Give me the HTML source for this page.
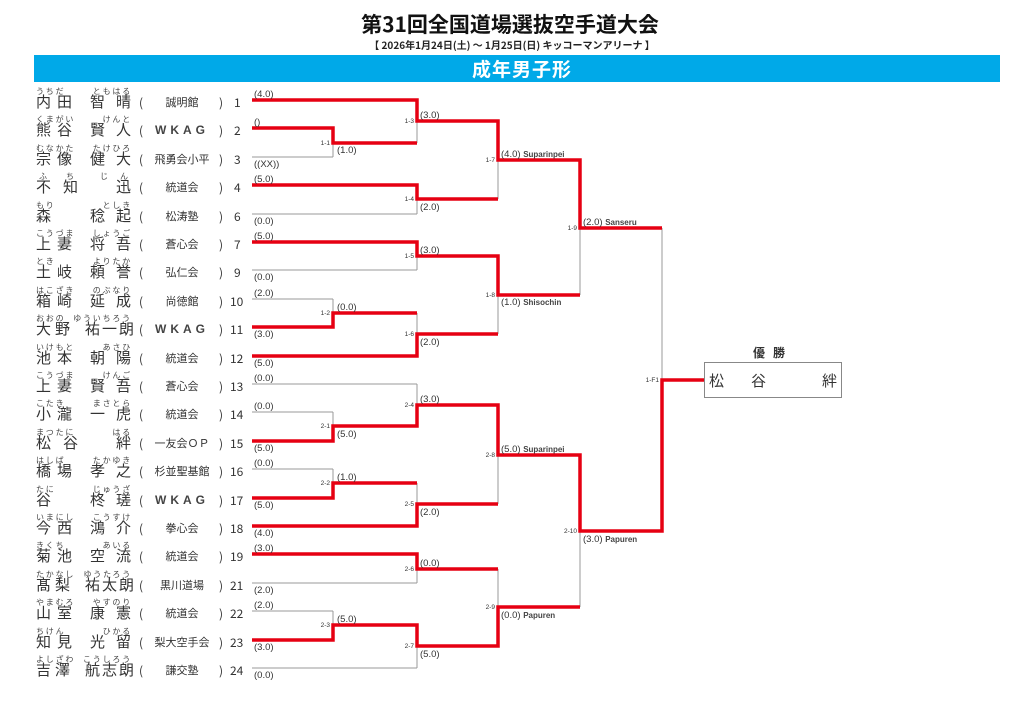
<!DOCTYPE html>
<html><head><meta charset="utf-8"><style>
html,body{margin:0;padding:0;background:#fff;}
svg{display:block;}
text{font-family:"Liberation Sans","Noto Sans CJK JP",sans-serif;fill:#333;}
.nm{font-family:"Noto Sans CJK JP",sans-serif;font-size:15px;fill:#333;}
.fu{font-family:"Noto Sans CJK JP",sans-serif;font-size:8px;fill:#444;letter-spacing:1.8px;}
.tm{font-family:"Noto Sans CJK JP",sans-serif;font-size:11px;fill:#333;}
.pn{font-family:"Noto Sans CJK JP",sans-serif;font-size:12px;fill:#333;}
.sc{font-size:9.5px;fill:#444;}
.mid{font-size:6.5px;fill:#444;}
.w{font-size:8px;font-weight:bold;fill:#444;}
.g{stroke:#999;stroke-width:1;fill:none;}
.r{stroke:#e60012;stroke-width:3.5;fill:none;stroke-linejoin:miter;}
</style></head><body>
<svg width="1024" height="724" viewBox="0 0 1024 724" xmlns="http://www.w3.org/2000/svg">
<text x="510" y="32" text-anchor="middle" style="font-family:'Noto Sans CJK JP',sans-serif;font-size:21px;font-weight:bold;fill:#111;">第31回全国道場選抜空手道大会</text>
<text x="512" y="49" text-anchor="middle" style="font-family:'Noto Sans CJK JP',sans-serif;font-size:10px;font-weight:bold;fill:#222;">【 2026年1月24日(土) ～ 1月25日(日)  キッコーマンアリーナ 】</text>
<rect x="34" y="55" width="966" height="27" fill="#00a9e8"/>
<text x="522" y="76" text-anchor="middle" style="font-family:'Noto Sans CJK JP',sans-serif;font-size:19px;font-weight:bold;fill:#fff;letter-spacing:1px;">成年男子形</text>

<g>
<text class="fu" x="36" y="94">うちだ</text><text class="fu" x="132" y="94" text-anchor="end">ともはる</text>
<text class="nm" x="36" y="107">内</text><text class="nm" x="57" y="107">田</text><text class="nm" x="90" y="107">智</text><text class="nm" x="116" y="107">晴</text>
<text class="tm" x="182" y="106" text-anchor="middle">誠明館</text><text class="pn" x="139" y="107">(</text><text class="pn" x="219" y="107">)</text><text class="pn" x="234" y="107">1</text>

<text class="fu" x="36" y="122">くまがい</text><text class="fu" x="132" y="122" text-anchor="end">けんと</text>
<text class="nm" x="36" y="135">熊</text><text class="nm" x="57" y="135">谷</text><text class="nm" x="90" y="135">賢</text><text class="nm" x="116" y="135">人</text>
<text class="tm" x="182" y="134" text-anchor="middle" style="font-size:12px;letter-spacing:4px;font-family:'Liberation Sans',sans-serif;font-weight:bold;fill:#444">WKAG</text><text class="pn" x="139" y="135">(</text><text class="pn" x="219" y="135">)</text><text class="pn" x="234" y="135">2</text>

<text class="fu" x="36" y="151">むなかた</text><text class="fu" x="132" y="151" text-anchor="end">たけひろ</text>
<text class="nm" x="36" y="164">宗</text><text class="nm" x="57" y="164">像</text><text class="nm" x="90" y="164">健</text><text class="nm" x="116" y="164">大</text>
<text class="tm" x="182" y="163" text-anchor="middle">飛勇会小平</text><text class="pn" x="139" y="164">(</text><text class="pn" x="219" y="164">)</text><text class="pn" x="234" y="164">3</text>

<text class="fu" x="39" y="179">ふ</text><text class="fu" x="66" y="179">ち</text><text class="fu" x="100" y="179">じ</text><text class="fu" x="120" y="179">ん</text>
<text class="nm" x="36" y="192">不</text><text class="nm" x="63" y="192">知</text><text class="nm" x="116" y="192">迅</text>
<text class="tm" x="182" y="191" text-anchor="middle">統道会</text><text class="pn" x="139" y="192">(</text><text class="pn" x="219" y="192">)</text><text class="pn" x="234" y="192">4</text>

<text class="fu" x="36" y="208">もり</text><text class="fu" x="132" y="208" text-anchor="end">としき</text>
<text class="nm" x="36" y="221">森</text><text class="nm" x="90" y="221">稔</text><text class="nm" x="116" y="221">起</text>
<text class="tm" x="182" y="220" text-anchor="middle">松涛塾</text><text class="pn" x="139" y="221">(</text><text class="pn" x="219" y="221">)</text><text class="pn" x="234" y="221">6</text>

<text class="fu" x="36" y="236">こうづま</text><text class="fu" x="132" y="236" text-anchor="end">しょうご</text>
<text class="nm" x="36" y="249">上</text><text class="nm" x="57" y="249">妻</text><text class="nm" x="90" y="249">将</text><text class="nm" x="116" y="249">吾</text>
<text class="tm" x="182" y="248" text-anchor="middle">蒼心会</text><text class="pn" x="139" y="249">(</text><text class="pn" x="219" y="249">)</text><text class="pn" x="234" y="249">7</text>

<text class="fu" x="36" y="264">とき</text><text class="fu" x="132" y="264" text-anchor="end">よりたか</text>
<text class="nm" x="36" y="277">土</text><text class="nm" x="57" y="277">岐</text><text class="nm" x="90" y="277">頼</text><text class="nm" x="116" y="277">誉</text>
<text class="tm" x="182" y="276" text-anchor="middle">弘仁会</text><text class="pn" x="139" y="277">(</text><text class="pn" x="219" y="277">)</text><text class="pn" x="234" y="277">9</text>

<text class="fu" x="36" y="293">はこざき</text><text class="fu" x="132" y="293" text-anchor="end">のぶなり</text>
<text class="nm" x="36" y="306">箱</text><text class="nm" x="57" y="306">崎</text><text class="nm" x="90" y="306">延</text><text class="nm" x="116" y="306">成</text>
<text class="tm" x="182" y="305" text-anchor="middle">尚徳館</text><text class="pn" x="139" y="306">(</text><text class="pn" x="219" y="306">)</text><text class="pn" x="230" y="306">10</text>

<text class="fu" x="36" y="321">おおの</text><text class="fu" x="132" y="321" text-anchor="end">ゆういちろう</text>
<text class="nm" x="36" y="334">大</text><text class="nm" x="55" y="334">野</text><text class="nm" x="85" y="334">祐</text><text class="nm" x="102" y="334">一</text><text class="nm" x="119" y="334">朗</text>
<text class="tm" x="182" y="333" text-anchor="middle" style="font-size:12px;letter-spacing:4px;font-family:'Liberation Sans',sans-serif;font-weight:bold;fill:#444">WKAG</text><text class="pn" x="139" y="334">(</text><text class="pn" x="219" y="334">)</text><text class="pn" x="230" y="334">11</text>

<text class="fu" x="36" y="350">いけもと</text><text class="fu" x="132" y="350" text-anchor="end">あさひ</text>
<text class="nm" x="36" y="363">池</text><text class="nm" x="57" y="363">本</text><text class="nm" x="90" y="363">朝</text><text class="nm" x="116" y="363">陽</text>
<text class="tm" x="182" y="362" text-anchor="middle">統道会</text><text class="pn" x="139" y="363">(</text><text class="pn" x="219" y="363">)</text><text class="pn" x="230" y="363">12</text>

<text class="fu" x="36" y="378">こうづま</text><text class="fu" x="132" y="378" text-anchor="end">けんご</text>
<text class="nm" x="36" y="391">上</text><text class="nm" x="57" y="391">妻</text><text class="nm" x="90" y="391">賢</text><text class="nm" x="116" y="391">吾</text>
<text class="tm" x="182" y="390" text-anchor="middle">蒼心会</text><text class="pn" x="139" y="391">(</text><text class="pn" x="219" y="391">)</text><text class="pn" x="230" y="391">13</text>

<text class="fu" x="36" y="406">こたき</text><text class="fu" x="132" y="406" text-anchor="end">まさとら</text>
<text class="nm" x="36" y="419">小</text><text class="nm" x="57" y="419">瀧</text><text class="nm" x="90" y="419">一</text><text class="nm" x="116" y="419">虎</text>
<text class="tm" x="182" y="418" text-anchor="middle">統道会</text><text class="pn" x="139" y="419">(</text><text class="pn" x="219" y="419">)</text><text class="pn" x="230" y="419">14</text>

<text class="fu" x="36" y="435">まつたに</text><text class="fu" x="132" y="435" text-anchor="end">はる</text>
<text class="nm" x="36" y="448">松</text><text class="nm" x="63" y="448">谷</text><text class="nm" x="116" y="448">絆</text>
<text class="tm" x="182" y="447" text-anchor="middle">一友会ＯＰ</text><text class="pn" x="139" y="448">(</text><text class="pn" x="219" y="448">)</text><text class="pn" x="230" y="448">15</text>

<text class="fu" x="36" y="463">はしば</text><text class="fu" x="132" y="463" text-anchor="end">たかゆき</text>
<text class="nm" x="36" y="476">橋</text><text class="nm" x="57" y="476">場</text><text class="nm" x="90" y="476">孝</text><text class="nm" x="116" y="476">之</text>
<text class="tm" x="182" y="475" text-anchor="middle">杉並聖基館</text><text class="pn" x="139" y="476">(</text><text class="pn" x="219" y="476">)</text><text class="pn" x="230" y="476">16</text>

<text class="fu" x="36" y="492">たに</text><text class="fu" x="132" y="492" text-anchor="end">じゅうざ</text>
<text class="nm" x="36" y="505">谷</text><text class="nm" x="90" y="505">柊</text><text class="nm" x="116" y="505">瑳</text>
<text class="tm" x="182" y="504" text-anchor="middle" style="font-size:12px;letter-spacing:4px;font-family:'Liberation Sans',sans-serif;font-weight:bold;fill:#444">WKAG</text><text class="pn" x="139" y="505">(</text><text class="pn" x="219" y="505">)</text><text class="pn" x="230" y="505">17</text>

<text class="fu" x="36" y="520">いまにし</text><text class="fu" x="132" y="520" text-anchor="end">こうすけ</text>
<text class="nm" x="36" y="533">今</text><text class="nm" x="57" y="533">西</text><text class="nm" x="90" y="533">鴻</text><text class="nm" x="116" y="533">介</text>
<text class="tm" x="182" y="532" text-anchor="middle">拳心会</text><text class="pn" x="139" y="533">(</text><text class="pn" x="219" y="533">)</text><text class="pn" x="230" y="533">18</text>

<text class="fu" x="36" y="548">きくち</text><text class="fu" x="132" y="548" text-anchor="end">あいる</text>
<text class="nm" x="36" y="561">菊</text><text class="nm" x="57" y="561">池</text><text class="nm" x="90" y="561">空</text><text class="nm" x="116" y="561">流</text>
<text class="tm" x="182" y="560" text-anchor="middle">統道会</text><text class="pn" x="139" y="561">(</text><text class="pn" x="219" y="561">)</text><text class="pn" x="230" y="561">19</text>

<text class="fu" x="36" y="577">たかなし</text><text class="fu" x="132" y="577" text-anchor="end">ゆうたろう</text>
<text class="nm" x="36" y="590">髙</text><text class="nm" x="55" y="590">梨</text><text class="nm" x="85" y="590">祐</text><text class="nm" x="102" y="590">太</text><text class="nm" x="119" y="590">朗</text>
<text class="tm" x="182" y="589" text-anchor="middle">黒川道場</text><text class="pn" x="139" y="590">(</text><text class="pn" x="219" y="590">)</text><text class="pn" x="230" y="590">21</text>

<text class="fu" x="36" y="605">やまむろ</text><text class="fu" x="132" y="605" text-anchor="end">やすのり</text>
<text class="nm" x="36" y="618">山</text><text class="nm" x="57" y="618">室</text><text class="nm" x="90" y="618">康</text><text class="nm" x="116" y="618">憲</text>
<text class="tm" x="182" y="617" text-anchor="middle">統道会</text><text class="pn" x="139" y="618">(</text><text class="pn" x="219" y="618">)</text><text class="pn" x="230" y="618">22</text>

<text class="fu" x="36" y="634">ちけん</text><text class="fu" x="132" y="634" text-anchor="end">ひかる</text>
<text class="nm" x="36" y="647">知</text><text class="nm" x="57" y="647">見</text><text class="nm" x="90" y="647">光</text><text class="nm" x="116" y="647">留</text>
<text class="tm" x="182" y="646" text-anchor="middle">梨大空手会</text><text class="pn" x="139" y="647">(</text><text class="pn" x="219" y="647">)</text><text class="pn" x="230" y="647">23</text>

<text class="fu" x="36" y="662">よしざわ</text><text class="fu" x="132" y="662" text-anchor="end">こうしろう</text>
<text class="nm" x="36" y="675">吉</text><text class="nm" x="55" y="675">澤</text><text class="nm" x="85" y="675">航</text><text class="nm" x="102" y="675">志</text><text class="nm" x="119" y="675">朗</text>
<text class="tm" x="182" y="674" text-anchor="middle">謙交塾</text><text class="pn" x="139" y="675">(</text><text class="pn" x="219" y="675">)</text><text class="pn" x="230" y="675">24</text>
</g>

<g class="g">
<path d="M252 157H333 M252 214H417 M252 270H417 M252 299H333 M252 384H417 M252 412H333 M252 469H333 M252 583H417 M252 611H333 M252 668H417"/>
<path d="M333 128V157 M333 299V327 M333 412V441 M333 469V498 M333 611V640"/>
<path d="M417 100V143 M417 185V214 M417 242V270 M417 313V356 M417 384V426 M417 483V526 M417 554V583 M417 625V668"/>
<path d="M498 121V199 M498 256V334 M498 405V504 M498 569V646"/>
<path d="M580 160V295 M580 455V607 M662 228V531"/>
</g>
<g class="r">
<polyline points="252,100 417,100 417,121 498,121 498,160 580,160 580,228 662,228"/>
<polyline points="252,128 333,128 333,143 417,143"/>
<polyline points="252,185 417,185 417,199 498,199"/>
<polyline points="252,242 417,242 417,256 498,256 498,295 580,295"/>
<polyline points="252,327 333,327 333,313 417,313"/>
<polyline points="252,356 417,356 417,334 498,334"/>
<polyline points="252,441 333,441 333,426 417,426 417,405 498,405 498,455 580,455 580,531 662,531 662,380 705,380"/>
<polyline points="252,498 333,498 333,483 417,483"/>
<polyline points="252,526 417,526 417,504 498,504"/>
<polyline points="252,554 417,554 417,569 498,569"/>
<polyline points="252,640 333,640 333,625 417,625 417,646 498,646 498,607 580,607"/>
</g>

<g class="sc">
<text x="254" y="97">(4.0)</text>
<text x="254" y="125">()</text>
<text x="254" y="167">((XX))</text>
<text x="254" y="182">(5.0)</text>
<text x="254" y="224">(0.0)</text>
<text x="254" y="239">(5.0)</text>
<text x="254" y="280">(0.0)</text>
<text x="254" y="296">(2.0)</text>
<text x="254" y="337">(3.0)</text>
<text x="254" y="366">(5.0)</text>
<text x="254" y="381">(0.0)</text>
<text x="254" y="409">(0.0)</text>
<text x="254" y="451">(5.0)</text>
<text x="254" y="466">(0.0)</text>
<text x="254" y="508">(5.0)</text>
<text x="254" y="536">(4.0)</text>
<text x="254" y="551">(3.0)</text>
<text x="254" y="593">(2.0)</text>
<text x="254" y="608">(2.0)</text>
<text x="254" y="650">(3.0)</text>
<text x="254" y="678">(0.0)</text>
</g>
<g class="mid" text-anchor="end">
<text x="330" y="145">1-1</text><text x="414" y="123">1-3</text><text x="414" y="201">1-4</text><text x="495" y="162">1-7</text>
<text x="414" y="258">1-5</text><text x="330" y="315">1-2</text><text x="414" y="336">1-6</text><text x="495" y="297">1-8</text>
<text x="577" y="230">1-9</text><text x="330" y="428">2-1</text><text x="414" y="407">2-4</text><text x="330" y="485">2-2</text>
<text x="414" y="506">2-5</text><text x="495" y="457">2-8</text><text x="414" y="571">2-6</text><text x="330" y="627">2-3</text>
<text x="414" y="648">2-7</text><text x="495" y="609">2-9</text><text x="577" y="533">2-10</text><text x="659" y="382">1-F1</text>
</g>
<g class="sc">
<text x="337" y="153">(1.0)</text>
<text x="420" y="118">(3.0)</text>
<text x="420" y="210">(2.0)</text>
<text x="501" y="157">(4.0) <tspan class="w">Suparinpei</tspan></text>
<text x="420" y="253">(3.0)</text>
<text x="337" y="310">(0.0)</text>
<text x="420" y="345">(2.0)</text>
<text x="501" y="305">(1.0) <tspan class="w">Shisochin</tspan></text>
<text x="583" y="225">(2.0) <tspan class="w">Sanseru</tspan></text>
<text x="337" y="437">(5.0)</text>
<text x="420" y="402">(3.0)</text>
<text x="337" y="480">(1.0)</text>
<text x="420" y="515">(2.0)</text>
<text x="501" y="452">(5.0) <tspan class="w">Suparinpei</tspan></text>
<text x="420" y="566">(0.0)</text>
<text x="337" y="622">(5.0)</text>
<text x="420" y="657">(5.0)</text>
<text x="501" y="618">(0.0) <tspan class="w">Papuren</tspan></text>
<text x="583" y="542">(3.0) <tspan class="w">Papuren</tspan></text>
</g>

<text x="773" y="357" text-anchor="middle" style="font-family:'Noto Sans CJK JP',sans-serif;font-size:12px;font-weight:bold;fill:#333;letter-spacing:8px;">優勝</text>
<rect x="704.5" y="362.5" width="137" height="35" fill="none" stroke="#888" stroke-width="1"/>
<text class="nm" x="709" y="386">松</text><text class="nm" x="751" y="386">谷</text><text class="nm" x="822" y="386">絆</text>
</svg>
</body></html>
